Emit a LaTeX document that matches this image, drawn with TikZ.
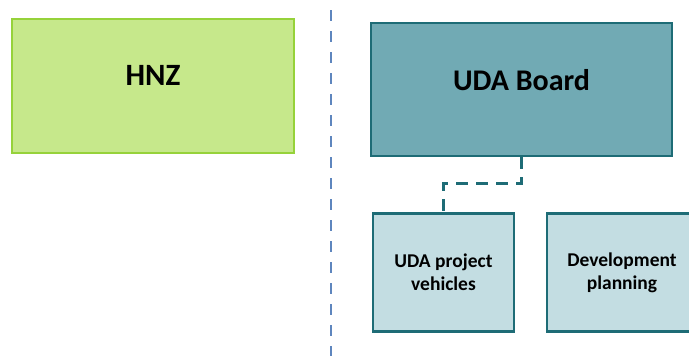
\documentclass[tikz,border=0pt]{standalone}
\usepackage{fontspec}
\setmainfont{Carlito}
\definecolor{hnzfill}{HTML}{C6E88B}
\definecolor{hnzline}{HTML}{96D23A}
\definecolor{boardfill}{HTML}{71AAB4}
\definecolor{teal}{HTML}{1E6C76}
\definecolor{unitfill}{HTML}{C3DDE2}
\definecolor{divider}{HTML}{5E86BE}
\tikzset{
  hnzbox/.style={draw=hnzline,fill=hnzfill,line width=2.5pt,minimum width=282pt,minimum height=134pt,font=\bfseries\fontsize{31}{34}\selectfont},
  boardbox/.style={draw=teal,fill=boardfill,line width=2.5pt,minimum width=301pt,minimum height=133pt,font=\bfseries\fontsize{30}{33}\selectfont},
  unitbox/.style={draw=teal,fill=unitfill,line width=2.5pt,minimum width=141pt,minimum height=118pt,align=center,font=\bfseries\fontsize{19.5}{23}\selectfont},
}
\begin{document}
\begin{tikzpicture}[x=1pt,y=-1pt]
\useasboundingbox (0,0) rectangle (689,356);
\begin{scope}
\clip (0,0) rectangle (689,356);

\node[hnzbox] (hnz) at (153,86) {\raisebox{22pt}{HNZ}};
\node[boardbox] (board) at (521.5,89.5) {\raisebox{19pt}{UDA Board}};
\node[unitbox] (vehicles) at (443.5,272.5) {UDA project\\vehicles};
\node[unitbox,minimum width=150pt] (planning) at (622,272.5) {Development\\planning};

\coordinate (divtop) at (331,10);
\coordinate (divbot) at (331,356);
\draw[divider,line width=2.5pt,dash pattern=on 11pt off 10pt] (divtop) -- (divbot);

\draw[teal,line width=2.8pt,dash pattern=on 12pt off 8pt] (board.south) -- ++(0,26) -| (vehicles.north);
\end{scope}
\end{tikzpicture}
\end{document}
